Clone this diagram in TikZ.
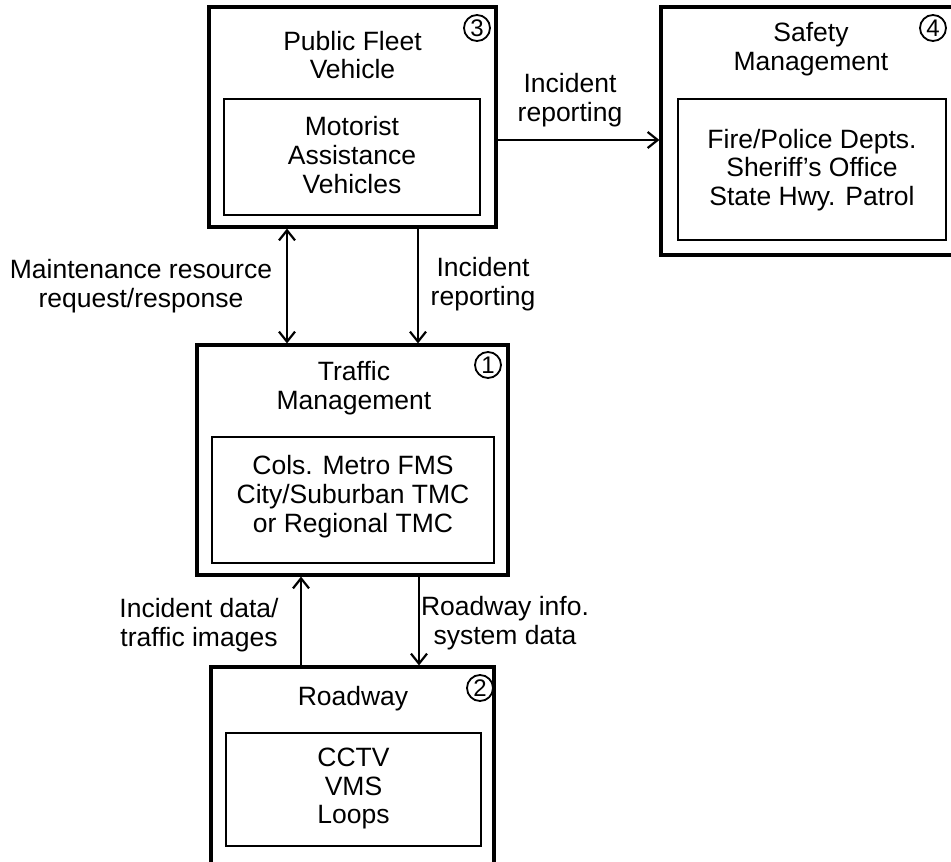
\documentclass[tikz,border=0pt]{standalone}
\usepackage{fontspec}
\setmainfont{Liberation Sans}
\usetikzlibrary{arrows.meta}
\begin{document}
\begin{tikzpicture}[x=1pt,y=-1pt,
  outerbox/.style={draw,line width=3.2pt,inner sep=0pt},
  innerbox/.style={draw,line width=2.8pt,inner sep=0pt},
  txt/.style={align=center,font=\fontsize{26.5}{28.8}\selectfont,inner sep=0pt},
  num/.style={draw,circle,line width=1.8pt,inner sep=0pt,minimum size=26pt,font=\fontsize{24}{24}\selectfont},
  conn/.style={line width=2.2pt,-{Straight Barb[length=10pt,width=16pt,line width=2.2pt]}},
  dconn/.style={line width=2.2pt,{Straight Barb[length=10pt,width=16pt,line width=2.2pt]}-{Straight Barb[length=10pt,width=16pt,line width=2.2pt]}}
]
\useasboundingbox (0,0) rectangle (951,862);
\fill[white] (0,0) rectangle (951,862);

% Public Fleet Vehicle
\node[outerbox,minimum width=287pt,minimum height=220pt] (pf) at (352.5,117) {};
\node[innerbox,minimum width=256pt,minimum height=116pt] (pfi) at (352,157) {};
\node[txt] (pft) at (352.5,55) {Public Fleet\\Vehicle};
\node[txt] (pfit) at (352,155) {Motorist\\Assistance\\Vehicles};
\node[num] (n3) at (477,28) {3};

% Safety Management
\node[outerbox,minimum width=302pt,minimum height=248pt] (sm) at (812,131) {};
\node[innerbox,minimum width=268pt,minimum height=141pt] (smi) at (812,169.5) {};
\node[txt] (smt) at (811,49) {Safety\\Management};
\node[txt] (smit) at (812,170) {Fire/Police Depts.\\Sheriff’s Office\\State Hwy. Patrol};
\node[num] (n4) at (933,28) {4};

% Traffic Management
\node[outerbox,minimum width=311pt,minimum height=230pt] (tm) at (352.5,460) {};
\node[innerbox,minimum width=282pt,minimum height=126pt] (tmi) at (353,500) {};
\node[txt] (tmt) at (354,388) {Traffic\\Management};
\node[txt] (tmit) at (353,496.5) {Cols. Metro FMS\\City/Suburban TMC\\or Regional TMC};
\node[num] (n1) at (488,365) {1};

% Roadway
\node[outerbox,minimum width=283pt,minimum height=233pt] (rw) at (352.5,783.5) {};
\node[innerbox,minimum width=255pt,minimum height=113pt] (rwi) at (353.5,789.5) {};
\node[txt] (rwt) at (353,699) {Roadway};
\node[txt] (rwit) at (353.5,788.5) {CCTV\\VMS\\Loops};
\node[num] (n2) at (480,688) {2};

% connector positions
\coordinate (xa) at (287,0);
\coordinate (xb) at (418,0);
\coordinate (xc) at (301,0);
\coordinate (xd) at (419,0);
\coordinate (yh) at (0,140);

\draw[dconn] (pf.south -| xa) -- (tm.north -| xa);
\draw[conn] (pf.south -| xb) -- (tm.north -| xb);
\draw[conn] (rw.north -| xc) -- (tm.south -| xc);
\draw[conn] (tm.south -| xd) -- (rw.north -| xd);
\draw[conn] (pf.east |- yh) -- (sm.west |- yh);

% labels
\node[txt] (l1) at (570,100) {Incident\\reporting};
\node[txt] (l2) at (141,286) {Maintenance resource\\request/response};
\node[txt] (l3) at (483,284) {Incident\\reporting};
\node[txt] (l4) at (199,625) {Incident data/\\traffic images};
\node[txt] (l5) at (505,623) {Roadway info.\\system data};
\end{tikzpicture}
\end{document}
